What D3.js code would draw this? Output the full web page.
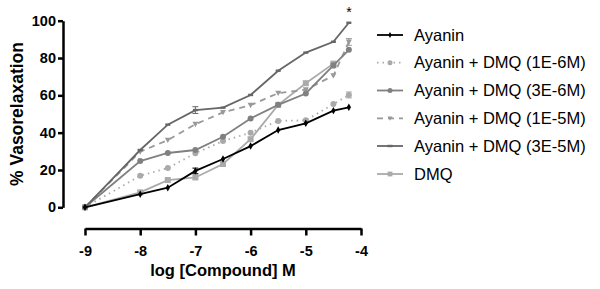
<!DOCTYPE html>
<html><head><meta charset="utf-8">
<script src="https://cdn.jsdelivr.net/npm/d3@7"></script>
<style>body{margin:0;background:#fff}svg{display:block}text{font-family:"Liberation Sans",Arial,sans-serif}</style>
</head><body><svg id="c" width="600" height="289"></svg>
<script>
const logConc = [-9, -8, -7.5, -7, -6.5, -6, -5.5, -5, -4.5, -4.22];
const ayanin      = [0, 7.0, 10.5, 19.5, 25.9, 32.8, 41.4, 45.0, 51.8, 53.6];
const dmq1e6      = [0, 16.9, 21.0, 29.0, 35.5, 40.0, 46.3, 46.6, 55.3, 60.2];
const dmq3e6      = [0, 24.8, 29.1, 30.7, 37.8, 47.6, 54.9, 61.0, 76.0, 84.4];
const dmq1e5      = [0, 29.8, 36.0, 44.5, 50.9, 54.7, 61.2, 63.0, 70.6, 88.6];
const dmq3e5      = [0, 30.7, 44.3, 52.1, 53.4, 60.2, 73.2, 82.9, 88.7, 98.9];
const dmqOnly     = [0, 8.0, 14.6, 16.0, 23.2, 36.5, 54.9, 66.5, 77.0];
const errBars     = [{s: 4, i: 3, e: 1.8}, {s: 1, i: 9, e: 1.6}, {s: 2, i: 8, e: 1.2}, {s: 3, i: 9, e: 1.8}, {s: 0, i: 3, e: 1.5}];
const yTicks = [0, 20, 40, 60, 80, 100];
const xTicks = [-9, -8, -7, -6, -5, -4];
const seriesNames = ["Ayanin", "Ayanin + DMQ (1E-6M)", "Ayanin + DMQ (3E-6M)", "Ayanin + DMQ (1E-5M)", "Ayanin + DMQ (3E-5M)", "DMQ"];

const styles = [
  {color: "#000", dash: null, marker: "diamond", size: 4, width: 1.8},
  {color: "#aaa", dash: "1.5,4", marker: "circle", size: 5, width: 1.8},
  {color: "#808080", dash: null, marker: "circle", size: 5, width: 1.8},
  {color: "#999", dash: "6,5", marker: "triangle", size: 6, width: 1.8},
  {color: "#666", dash: null, marker: "dash", size: 4, width: 1.8},
  {color: "#aaa", dash: null, marker: "square", size: 6, width: 1.8}
];
const allSeries = [ayanin, dmq1e6, dmq3e6, dmq1e5, dmq3e5, dmqOnly];

const svg = d3.select("#c");
const x = d3.scaleLinear().domain([-9, -4]).range([85, 361]);
const y = d3.scaleLinear().domain([0, 100]).range([207.3, 20.7]);

// Y axis
const yAx = svg.append("g").attr("transform", "translate(63,0)")
  .call(d3.axisLeft(y).tickValues(yTicks).tickSize(5).tickSizeOuter(0).tickPadding(2));
yAx.select(".domain").attr("stroke", "#000").attr("stroke-width", 2.5);
yAx.selectAll(".tick line").attr("stroke-width", 2.5);
yAx.selectAll("text").attr("font-size", 14.5).attr("font-weight", "bold").attr("fill", "#000");

// X axis
const xAx = svg.append("g").attr("transform", "translate(0,228.5)")
  .call(d3.axisBottom(x).tickValues(xTicks).tickSize(7).tickSizeOuter(0).tickPadding(10).tickFormat(d => String(d)));
xAx.select(".domain").attr("stroke", "#000").attr("stroke-width", 2.5);
xAx.selectAll(".tick line").attr("stroke-width", 2.5);
xAx.selectAll("text").attr("font-size", 14.5).attr("font-weight", "bold").attr("fill", "#000");

svg.append("text").attr("x", 223).attr("y", 276).attr("text-anchor", "middle")
  .attr("font-size", 16.5).attr("font-weight", "bold").text("log [Compound] M");
svg.append("text").attr("transform", "translate(23,114) rotate(-90)").attr("text-anchor", "middle")
  .attr("font-size", 17.5).attr("font-weight", "bold").text("% Vasorelaxation");

function drawMarker(g, type, cx, cy, s, color) {
  if (type === "circle") g.append("circle").attr("cx", cx).attr("cy", cy).attr("r", s / 2 + 0.5).attr("fill", color);
  else if (type === "square") g.append("rect").attr("x", cx - s / 2).attr("y", cy - s / 2).attr("width", s).attr("height", s).attr("fill", color);
  else if (type === "diamond") g.append("path").attr("d", d3.symbol(d3.symbolDiamond, s * s * 1.0)()).attr("transform", `translate(${cx},${cy})`).attr("fill", color);
  else if (type === "triangle") g.append("path").attr("d", `M${cx - s / 2},${cy - s / 2.5}L${cx + s / 2},${cy - s / 2.5}L${cx},${cy + s / 2}Z`).attr("fill", color);
  else if (type === "dash") g.append("rect").attr("x", cx - 2.5).attr("y", cy - 1.2).attr("width", 5).attr("height", 2.4).attr("fill", color);
}

const line = d3.line().x((d, i) => x(logConc[i])).y(d => y(d));
const order = [5, 1, 3, 2, 4, 0];
order.forEach(si => {
  const st = styles[si], vals = allSeries[si];
  const g = svg.append("g");
  g.append("path").attr("d", line(vals)).attr("fill", "none").attr("stroke", st.color)
    .attr("stroke-width", st.width).attr("stroke-dasharray", st.dash);
  errBars.filter(e => e.s === si).forEach(e => {
    const cx = x(logConc[e.i]);
    g.append("path").attr("d", `M${cx},${y(vals[e.i] + e.e)}V${y(vals[e.i] - e.e)}M${cx - 3},${y(vals[e.i] + e.e)}H${cx + 3}M${cx - 3},${y(vals[e.i] - e.e)}H${cx + 3}`)
      .attr("stroke", st.color).attr("stroke-width", 1).attr("fill", "none");
  });
  vals.forEach((v, i) => drawMarker(g, st.marker, x(logConc[i]), y(v), st.size, st.color));
});

svg.append("text").attr("x", x(logConc[9])).attr("y", 17).attr("text-anchor", "middle")
  .attr("font-size", 14).text("*");

// Legend
const legY = [35, 62.7, 90.5, 118.3, 146, 174];
seriesNames.forEach((name, i) => {
  const st = styles[i];
  const g = svg.append("g");
  g.append("line").attr("x1", 377).attr("x2", 403).attr("y1", legY[i]).attr("y2", legY[i])
    .attr("stroke", st.color).attr("stroke-width", st.width).attr("stroke-dasharray", st.dash);
  drawMarker(g, st.marker, 390, legY[i], st.size * 0.8, st.color);
  g.append("text").attr("x", 414).attr("y", legY[i] + 5.5).attr("font-size", 16.5).attr("fill", "#000").text(name);
});
</script></body></html>
